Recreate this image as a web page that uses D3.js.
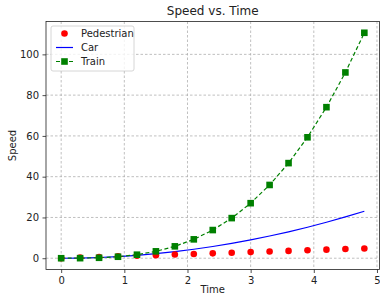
<!DOCTYPE html>
<html>
<head>
<meta charset="utf-8">
<script src="https://cdn.jsdelivr.net/npm/d3@7"></script>
<style>
  body { margin: 0; background: #fff; }
  svg text { font-family: "DejaVu Sans", sans-serif; }
</style>
</head>
<body>
<svg width="380" height="296"></svg>
<script>
const time = [0, 0.3, 0.6, 0.9, 1.2, 1.5, 1.8, 2.1, 2.4, 2.7, 3.0, 3.3, 3.6, 3.9, 4.2, 4.5, 4.8];
const pedestrian = [0, 0.3, 0.6, 0.9, 1.2, 1.5, 1.8, 2.1, 2.4, 2.7, 3.0, 3.3, 3.6, 3.9, 4.2, 4.5, 4.8];
const car = [0, 0.09, 0.36, 0.81, 1.44, 2.25, 3.24, 4.41, 5.76, 7.29, 9.0, 10.89, 12.96, 15.21, 17.64, 20.25, 23.04];
const train = [0, 0.03, 0.22, 0.73, 1.73, 3.38, 5.83, 9.26, 13.82, 19.68, 27.0, 35.94, 46.66, 59.32, 74.09, 91.13, 110.59];
const xTicks = [0, 1, 2, 3, 4, 5];
const yTicks = [0, 20, 40, 60, 80, 100];

const svg = d3.select('svg');
const mLeft = 46, mRight = 379.5, mTop = 21.5, mBottom = 269.5;

const x = d3.scaleLinear().domain([-0.24, 5.04]).range([mLeft, mRight]);
const y = d3.scaleLinear().domain([-5.53, 116.12]).range([mBottom, mTop]);

// grille
const grid = svg.append('g')
  .attr('stroke', '#b0b0b0')
  .attr('stroke-width', 0.8)
  .attr('stroke-dasharray', '2.5,2');
grid.selectAll('.gx').data(xTicks.filter(d => x(d) < mRight)).enter().append('line')
  .attr('x1', d => x(d)).attr('x2', d => x(d)).attr('y1', mTop).attr('y2', mBottom);
grid.selectAll('.gy').data(yTicks).enter().append('line')
  .attr('y1', d => y(d)).attr('y2', d => y(d)).attr('x1', mLeft).attr('x2', mRight);

// axes
const xAxis = svg.append('g')
  .attr('transform', `translate(0,${mBottom})`)
  .call(d3.axisBottom(x).tickValues(xTicks).tickSize(3.5).tickPadding(3.5).tickFormat(d3.format('d')));
const yAxis = svg.append('g')
  .attr('transform', `translate(${mLeft},0)`)
  .call(d3.axisLeft(y).tickValues(yTicks).tickSize(3.5).tickPadding(3.5).tickFormat(d3.format('d')));
[xAxis, yAxis].forEach(a => {
  a.select('.domain').remove();
  a.selectAll('text').attr('font-size', 10).attr('fill', '#222').style('font-family', '"DejaVu Sans", sans-serif');
  a.selectAll('line').attr('stroke', '#222').attr('stroke-width', 0.8);
});

// cadre
svg.append('rect')
  .attr('x', mLeft).attr('y', mTop)
  .attr('width', mRight - mLeft).attr('height', mBottom - mTop)
  .attr('fill', 'none').attr('stroke', '#222').attr('stroke-width', 0.8);

const pts = (vals) => time.map((t, i) => [t, vals[i]]);
const line = d3.line().x(d => x(d[0])).y(d => y(d[1]));

// Car
svg.append('path')
  .datum(pts(car))
  .attr('d', line)
  .attr('fill', 'none').attr('stroke', '#0000ff').attr('stroke-width', 1.2);

// Train
svg.append('path')
  .datum(pts(train))
  .attr('d', line)
  .attr('fill', 'none').attr('stroke', '#008000').attr('stroke-width', 1.2)
  .attr('stroke-dasharray', '4,2.5');

// Pedestrian
svg.append('g').selectAll('circle')
  .data(pts(pedestrian)).enter().append('circle')
  .attr('cx', d => x(d[0])).attr('cy', d => y(d[1])).attr('r', 3.3)
  .attr('fill', '#ff0000');

svg.append('g').selectAll('rect')
  .data(pts(train)).enter().append('rect')
  .attr('x', d => x(d[0]) - 3.3).attr('y', d => y(d[1]) - 3.3)
  .attr('width', 6.6).attr('height', 6.6)
  .attr('fill', '#008000');

// titres
svg.append('text')
  .attr('x', (mLeft + mRight) / 2).attr('y', 15)
  .attr('text-anchor', 'middle').attr('font-size', 12).attr('fill', '#222')
  .text('Speed vs. Time');
svg.append('text')
  .attr('x', (mLeft + mRight) / 2).attr('y', 293)
  .attr('text-anchor', 'middle').attr('font-size', 10).attr('fill', '#222')
  .text('Time');
svg.append('text')
  .attr('transform', `translate(16,${(mTop + mBottom) / 2}) rotate(-90)`)
  .attr('text-anchor', 'middle').attr('font-size', 10).attr('fill', '#222')
  .text('Speed');

// légende
const legend = svg.append('g');
legend.append('rect')
  .attr('x', 51).attr('y', 26).attr('width', 83).attr('height', 45).attr('rx', 2)
  .attr('fill', '#fff').attr('fill-opacity', 0.8)
  .attr('stroke', '#ccc').attr('stroke-width', 0.8);
const items = ['Pedestrian', 'Car', 'Train'];
items.forEach((name, i) => {
  const yy = 33.5 + i * 14;
  if (name === 'Pedestrian') {
    legend.append('circle').attr('cx', 64.5).attr('cy', yy).attr('r', 3.3).attr('fill', '#ff0000');
  } else if (name === 'Car') {
    legend.append('line').attr('x1', 56).attr('x2', 73).attr('y1', yy).attr('y2', yy)
      .attr('stroke', '#0000ff').attr('stroke-width', 1.2);
  } else {
    legend.append('line').attr('x1', 56).attr('x2', 73).attr('y1', yy).attr('y2', yy)
      .attr('stroke', '#008000').attr('stroke-width', 1.2).attr('stroke-dasharray', '4,2.5');
    legend.append('rect').attr('x', 64.5 - 3.3).attr('y', yy - 3.3).attr('width', 6.6).attr('height', 6.6)
      .attr('fill', '#008000');
  }
  legend.append('text').attr('x', 81).attr('y', yy + 3.5)
    .attr('font-size', 10).attr('fill', '#222').text(name);
});
</script>
</body>
</html>
